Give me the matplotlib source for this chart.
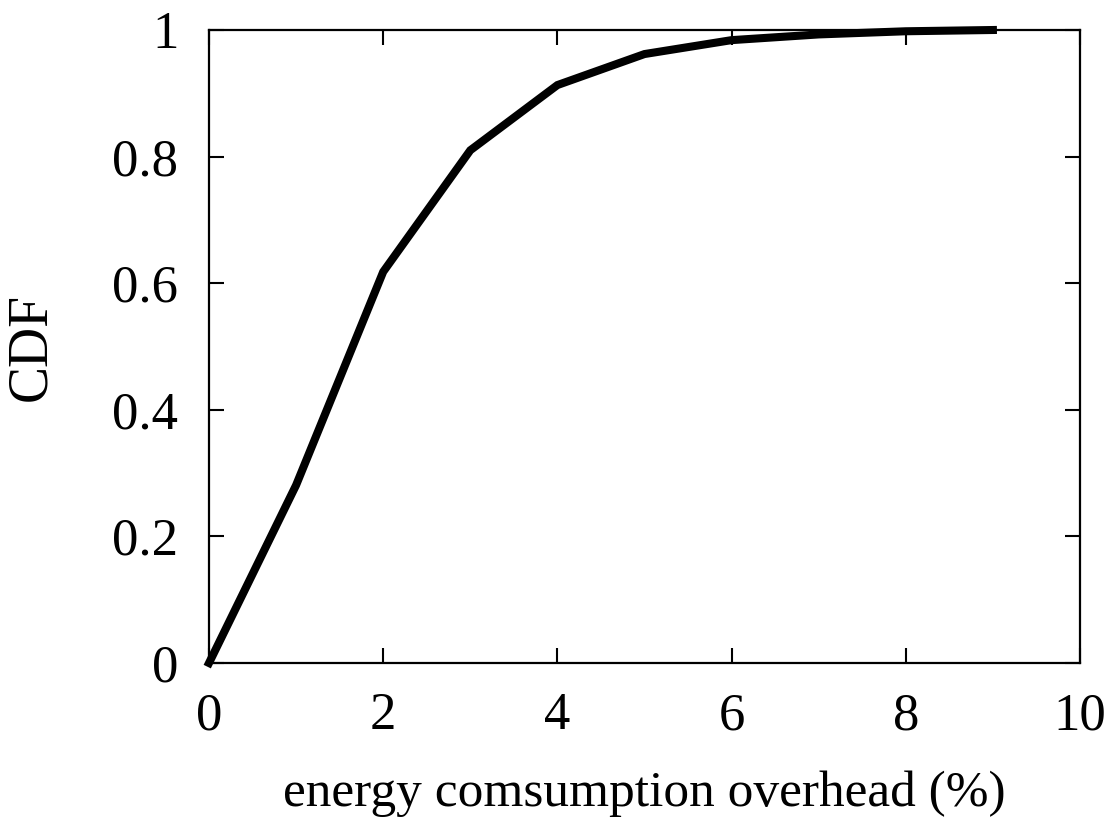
import matplotlib
matplotlib.use("Agg")
import matplotlib.pyplot as plt

overhead = [0, 1, 2, 3, 4, 5, 6, 7, 8, 9]
cdf = [0.0, 0.281, 0.618, 0.81, 0.913, 0.962, 0.984, 0.993, 0.998, 1.0]
xticks = [0, 2, 4, 6, 8, 10]
yticks = [0, 0.2, 0.4, 0.6, 0.8, 1]
ytick_labels = ["0", "0.2", "0.4", "0.6", "0.8", "1"]

plt.rcParams['font.family'] = ['Liberation Serif', 'DejaVu Serif']
fig = plt.figure(figsize=(11.15, 8.18), dpi=100)
ax = fig.add_axes([209/1115, 1-663/818, (1080-209)/1115, (663-30)/818])
ax.plot(overhead, cdf, color='black', linewidth=5.8, solid_joinstyle='miter', clip_on=False)
ax.set_xlim(0, 10)
ax.set_ylim(0, 1)
ax.set_xticks(xticks)
ax.set_xticklabels([str(t) for t in xticks])
ax.set_yticks(yticks)
ax.set_yticklabels(ytick_labels)
ax.tick_params(direction='in', length=11, width=1.5, labelsize=38, top=True, right=True)
ax.tick_params(axis='y', pad=22)
ax.tick_params(axis='x', pad=21)
for s in ax.spines.values():
    s.set_linewidth(1.6)
ax.set_xlabel('energy comsumption overhead (%)', fontsize=37, labelpad=22)
ax.set_ylabel('CDF', fontsize=40, labelpad=40)
fig.savefig('out.png', dpi=100)
